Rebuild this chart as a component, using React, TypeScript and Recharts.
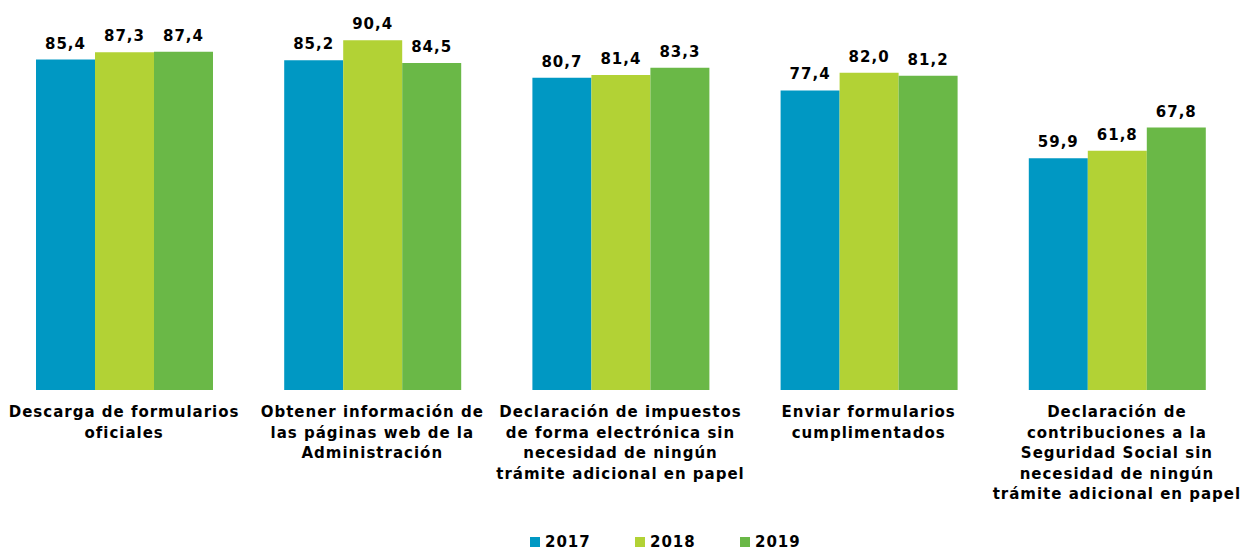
import { BarChart, Bar, XAxis, YAxis, Legend, LabelList } from "recharts";

const categories = [
  "Descarga de formularios\noficiales",
  "Obtener información de\nlas páginas web de la\nAdministración",
  "Declaración de impuestos\nde forma electrónica sin\nnecesidad de ningún\ntrámite adicional en papel",
  "Enviar formularios\ncumplimentados",
  "Declaración de\ncontribuciones a la\nSeguridad Social sin\nnecesidad de ningún\ntrámite adicional en papel",
];
const y2017 = [85.4, 85.2, 80.7, 77.4, 59.9];
const y2018 = [87.3, 90.4, 81.4, 82.0, 61.8];
const y2019 = [87.4, 84.5, 83.3, 81.2, 67.8];

const series = [
  { key: "2017", color: "#0098C3" },
  { key: "2018", color: "#B2D235" },
  { key: "2019", color: "#6AB847" },
];

const data = categories.map((name, i) => ({
  name,
  "2017": y2017[i],
  "2018": y2018[i],
  "2019": y2019[i],
}));

const FONT = "Verdana, 'DejaVu Sans', sans-serif";
const fmt = (v: unknown) => Number(v).toFixed(1).replace(".", ",");

const CategoryTick = ({ x, y, payload }: any) => {
  const lines = String(payload.value).split("\n");
  return (
    <text
      x={x}
      y={y}
      textAnchor="middle"
      fontFamily={FONT}
      fontWeight={700}
      fontSize={15}
      letterSpacing={1}
      fill="#000"
    >
      {lines.map((l, i) => (
        <tspan key={i} x={x} dy={i === 0 ? 19 : 20.5}>
          {l}
        </tspan>
      ))}
    </text>
  );
};

const LegendContent = () => (
  <div
    style={{
      display: "flex",
      paddingLeft: 530,
      paddingTop: 4,
      fontFamily: FONT,
      fontWeight: 700,
      fontSize: 15,
      letterSpacing: 1,
    }}
  >
    {series.map((s) => (
      <div key={s.key} style={{ display: "flex", alignItems: "center", gap: 5, width: 105 }}>
        <span style={{ width: 10, height: 10, background: s.color, display: "inline-block" }} />
        <span>{s.key}</span>
      </div>
    ))}
  </div>
);

export default function App() {
  return (
    <div style={{ position: "absolute", left: 0, top: 0, background: "#fff" }}>
      <BarChart
        width={1241}
        height={549}
        data={data}
        margin={{ top: 3, right: 0, left: 0, bottom: 0 }}
        barGap={0}
        barSize={59}
      >
        <XAxis
          dataKey="name"
          interval={0}
          axisLine={false}
          tickLine={false}
          height={139}
          tick={<CategoryTick />}
        />
        <YAxis hide domain={[0, 100]} />
        <Legend verticalAlign="bottom" height={20} content={<LegendContent />} />
        {series.map((s) => (
          <Bar key={s.key} dataKey={s.key} fill={s.color} isAnimationActive={false}>
            <LabelList
              dataKey={s.key}
              position="top"
              offset={11}
              formatter={fmt}
              style={{ fill: "#000", fontSize: 15, fontWeight: 700, fontFamily: FONT, letterSpacing: 1 }}
            />
          </Bar>
        ))}
      </BarChart>
    </div>
  );
}
